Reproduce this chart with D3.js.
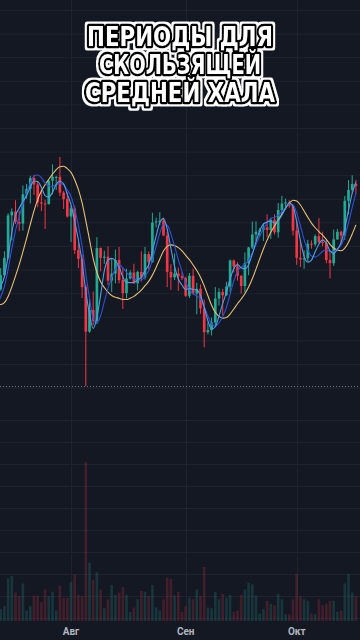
<!DOCTYPE html>
<html><head><meta charset="utf-8">
<script src="https://cdn.jsdelivr.net/npm/d3@7"></script>
<style>html,body{margin:0;padding:0;background:#141823;}svg{display:block}</style>
</head><body>
<script>
// ---------- DATA (daily candles) ----------
const dates = ["2024-07-12","2024-07-13","2024-07-14","2024-07-15","2024-07-16","2024-07-17","2024-07-18","2024-07-19","2024-07-20","2024-07-21","2024-07-22","2024-07-23","2024-07-24","2024-07-25","2024-07-26","2024-07-27","2024-07-28","2024-07-29","2024-07-30","2024-07-31",
"2024-08-01","2024-08-02","2024-08-03","2024-08-04","2024-08-05","2024-08-06","2024-08-07","2024-08-08","2024-08-09","2024-08-10","2024-08-11","2024-08-12","2024-08-13","2024-08-14","2024-08-15","2024-08-16","2024-08-17","2024-08-18","2024-08-19","2024-08-20","2024-08-21","2024-08-22","2024-08-23","2024-08-24","2024-08-25","2024-08-26","2024-08-27","2024-08-28","2024-08-29","2024-08-30","2024-08-31",
"2024-09-01","2024-09-02","2024-09-03","2024-09-04","2024-09-05","2024-09-06","2024-09-07","2024-09-08","2024-09-09","2024-09-10","2024-09-11","2024-09-12","2024-09-13","2024-09-14","2024-09-15","2024-09-16","2024-09-17","2024-09-18","2024-09-19","2024-09-20","2024-09-21","2024-09-22","2024-09-23","2024-09-24","2024-09-25","2024-09-26","2024-09-27","2024-09-28","2024-09-29","2024-09-30",
"2024-10-01","2024-10-02","2024-10-03","2024-10-04","2024-10-05","2024-10-06","2024-10-07","2024-10-08","2024-10-09","2024-10-10","2024-10-11","2024-10-12","2024-10-13","2024-10-14","2024-10-15","2024-10-16","2024-10-17"];
const opens = [57350,57900,59200,60800,64700,65050,64100,63950,66650,67150,68150,67550,65900,65800,65750,67900,68250,68250,66800,66200,
64600,65350,61500,60700,58100,54000,56000,55000,61700,60800,60900,58700,59350,60600,58750,57550,58900,59450,58450,59500,59000,61150,60400,64050,64150,64200,62850,59500,59000,59350,59100,
58950,57300,59150,57500,57950,56150,53950,54150,54850,57050,57650,57350,58150,60550,60000,59150,58200,60300,61750,62950,63200,63350,63600,63350,64300,63150,65200,65800,65900,65600,
63300,60800,60650,60750,62100,62050,62800,62250,62150,60600,60300,62500,63200,62850,66050,67050,67600];
const highs = [58550,59850,61400,64900,65350,66100,65150,67450,67600,68350,68450,67800,67100,66150,68000,69400,68350,70080,66950,66800,
65600,65600,62200,61100,58300,57000,57700,62700,61750,61450,61850,60700,61550,61800,59850,59800,59650,60250,59600,61400,61800,61400,64950,64500,65000,64500,63200,60200,61200,59900,59450,
59050,59400,59800,58500,58350,56950,54850,55300,58100,58000,57950,58600,60650,60650,60400,59200,61300,61800,64150,64150,63550,64000,64800,64500,64800,65850,66500,66250,66100,65600,
64150,62400,61500,62450,62400,62950,64450,63200,62500,61300,63400,63450,63300,66500,67950,68400,67950];
const lows = [56550,57750,59000,60650,62400,63900,63250,63300,66250,65800,66600,65450,65100,63450,65700,66650,67050,66500,65300,64500,
62250,61150,59850,57100,49000,53900,54600,54700,59550,60250,58300,57650,58450,58450,56100,57050,58800,58400,57800,58600,58800,59750,60350,63600,63800,62800,58100,57850,58750,57750,58750,
57200,57100,57400,55600,55650,52550,53750,53650,54600,56400,55550,57300,57650,59450,58700,57500,57600,59200,61600,62350,62750,62350,62700,62550,62950,62650,64800,65400,65400,62850,
60150,59950,59800,60450,61650,61850,62150,61850,60300,58900,60050,62450,62050,62450,64800,66750,66650];
const closes = [57900,59200,60800,64700,65050,64100,63950,66650,67150,68150,67550,65900,65800,65750,67900,68250,68250,66800,66200,64600,
65350,61500,60700,58100,54000,56000,55000,61700,60800,60900,58700,59350,60600,58750,57550,58900,59450,58450,59500,59000,61150,60400,64050,64150,64200,62850,59500,59000,59350,59100,58950,
57300,59150,57500,57950,56150,53950,54150,54850,57050,57650,57350,58150,60550,60000,59150,58200,60300,61750,62950,63200,63350,63600,63350,64300,63150,65200,65800,65900,65600,63300,
60800,60650,60750,62100,62050,62800,62250,62150,60600,60300,62500,63200,62850,66050,67050,67600,67400];
const volumes = [30,16,20,57,60,38,33,50,14,20,34,34,25,42,33,39,14,47,31,31,
52,62,35,33,212,78,55,65,42,17,29,48,35,38,45,35,12,18,29,40,39,33,48,18,14,29,58,56,34,39,12,
20,31,29,42,33,72,18,17,39,29,36,31,35,12,14,35,42,51,49,34,10,16,27,23,21,36,29,9,9,29,
63,33,29,27,10,9,29,21,23,27,27,12,14,50,63,38,33];
// closes before the visible window (only feed the moving averages)
const warmupCloses = [67750,67800,68800,70550,71100,70800,69350,69300,69650,69500,67300,68250,66750,66000,66200,66650,66500,65150,64950,64850,64100,64250,63200,60300,61800,60850,61600,60300,60900,62650,62850,62050,60200,57050,56650,58250,55850,56700,58050,57700,57350];
const monthTicks = ["2024-08-01","2024-09-01","2024-10-01"];
const monthLabels = ["Авг","Сен","Окт"];
const hullPeriods = [9, 14, 30];
const titleLines = ["ПЕРИОДЫ ДЛЯ","СКОЛЬЗЯЩЕЙ","СРЕДНЕЙ ХАЛА"];

// ---------- LAYOUT ----------
const W = 360, H = 640;
const UP = "#22ab94", DOWN = "#f23645";
const maColors = ["#4f9fe8", "#2f52d6", "#e6c173"];
const day = 864e5;
const parse = d3.utcParse("%Y-%m-%d");
const aug1 = parse("2024-08-01").getTime();
const pxPerDay = 3.7;

const x = d3.scaleUtc()
  .domain([new Date(aug1 - 71 / pxPerDay * day), new Date(aug1 + (W - 71) / pxPerDay * day)])
  .range([0, W]);
const y = d3.scaleLinear().domain([49000, 70080]).range([386, 157]);
const v = d3.scaleLinear().domain([0, 212]).range([621, 462]);

const data = dates.map((d, i) => ({date: parse(d), o: opens[i], h: highs[i], l: lows[i], c: closes[i], vol: volumes[i]}));

const svg = d3.select("body").append("svg").attr("width", W).attr("height", H);
const defs = svg.append("defs");
const f = defs.append("filter").attr("id", "outline").attr("x", "-10%").attr("y", "-30%").attr("width", "120%").attr("height", "160%");
f.append("feMorphology").attr("in", "SourceAlpha").attr("operator", "dilate").attr("radius", 1.6).attr("result", "dil");
f.append("feFlood").attr("flood-color", "#ffffff").attr("result", "wh");
f.append("feComposite").attr("in", "wh").attr("in2", "dil").attr("operator", "in").attr("result", "outer");
const fm = f.append("feMerge");
fm.append("feMergeNode").attr("in", "outer");
fm.append("feMergeNode").attr("in", "SourceGraphic");

svg.append("rect").attr("width", W).attr("height", H).attr("fill", "#141823");

// grid
const gridG = svg.append("g").attr("stroke", "#1f2330").attr("stroke-width", 1);
d3.range(10.5, 400, 23.6).forEach(gy => gridG.append("line").attr("x1", 0).attr("x2", W).attr("y1", gy).attr("y2", gy));
d3.range(420.5, 625, 22).forEach(gy => gridG.append("line").attr("x1", 0).attr("x2", W).attr("y1", gy).attr("y2", gy));
monthTicks.forEach(m => {
  const gx = Math.round(x(parse(m))) + 0.5;
  gridG.append("line").attr("x1", gx).attr("x2", gx).attr("y1", 0).attr("y2", 622);
});

// volume
const bw = pxPerDay * 0.72;
svg.append("g").selectAll("rect").data(data).join("rect")
  .attr("x", d => x(d.date) - bw / 2).attr("width", bw)
  .attr("y", d => v(d.vol)).attr("height", d => v(0) - v(d.vol))
  .attr("fill", d => d.c >= d.o ? "rgba(34,171,148,0.2)" : "rgba(242,54,69,0.2)");

// dotted line
svg.append("line").attr("x1", 0).attr("x2", W).attr("y1", 386.5).attr("y2", 386.5)
  .attr("stroke", "#6f7380").attr("stroke-width", 1).attr("stroke-dasharray", "1,2");

// candles
const cg = svg.append("g");
cg.selectAll("line").data(data).join("line")
  .attr("x1", d => x(d.date)).attr("x2", d => x(d.date))
  .attr("y1", d => y(d.h)).attr("y2", d => y(d.l))
  .attr("stroke", d => d.c >= d.o ? UP : DOWN).attr("stroke-width", 1);
cg.selectAll("rect").data(data).join("rect")
  .attr("x", d => x(d.date) - bw / 2).attr("width", bw)
  .attr("y", d => y(Math.max(d.o, d.c)))
  .attr("height", d => Math.max(1, Math.abs(y(d.o) - y(d.c))))
  .attr("fill", d => d.c >= d.o ? UP : DOWN);

// Hull moving averages computed from closes
function wma(arr, n) {
  return arr.map((_, i) => {
    if (i < n - 1 || arr.slice(i - n + 1, i + 1).some(a => a == null)) return null;
    let s = 0, ws = 0;
    for (let k = 0; k < n; k++) { const w = k + 1; s += arr[i - n + 1 + k] * w; ws += w; }
    return s / ws;
  });
}
function hma(arr, n) {
  const a = wma(arr, Math.round(n / 2)), b = wma(arr, n);
  const diff = arr.map((_, i) => a[i] == null || b[i] == null ? null : 2 * a[i] - b[i]);
  return wma(diff, Math.round(Math.sqrt(n)));
}
const allCloses = warmupCloses.concat(closes);
const off = warmupCloses.length;
const line = d3.line().x(d => x(d.date)).y(d => y(d.val)).curve(d3.curveMonotoneX);
hullPeriods.slice().reverse().forEach((p, ri) => {
  const idx = hullPeriods.length - 1 - ri;
  const h = hma(allCloses, p);
  const pts = data.map((d, i) => ({date: d.date, val: h[i + off]})).filter(d => d.val != null);
  svg.append("path").datum(pts).attr("d", line)
    .attr("fill", "none").attr("stroke", maColors[idx]).attr("stroke-width", 1.1);
});

// month labels
monthTicks.forEach((m, i) => {
  svg.append("text").attr("x", x(parse(m))).attr("y", 635).attr("text-anchor", "middle")
    .attr("font-family", "Roboto, 'Noto Sans', sans-serif").attr("font-size", 10).attr("font-weight", 700)
    .attr("fill", "#b2b5be").text(monthLabels[i]);
});

// title: white glyphs, black outline, thin white outer rim
const tg = svg.append("g").attr("font-family", "'DejaVu Sans Condensed','Liberation Sans Narrow','DejaVu Sans',sans-serif")
  .attr("font-weight", 700).attr("font-size", 27).attr("text-anchor", "middle").attr("filter", "url(#outline)");
const tys = [46, 74, 102], tws = [186, 162, 190];
titleLines.forEach((t, i) => {
  tg.append("text").attr("x", 180).attr("y", tys[i]).attr("textLength", tws[i])
    .attr("lengthAdjust", "spacingAndGlyphs").text(t)
    .attr("fill", "#ffffff").attr("stroke", "#000000").attr("stroke-width", 5)
    .attr("stroke-linejoin", "round").attr("paint-order", "stroke");
});
</script>
</body></html>
